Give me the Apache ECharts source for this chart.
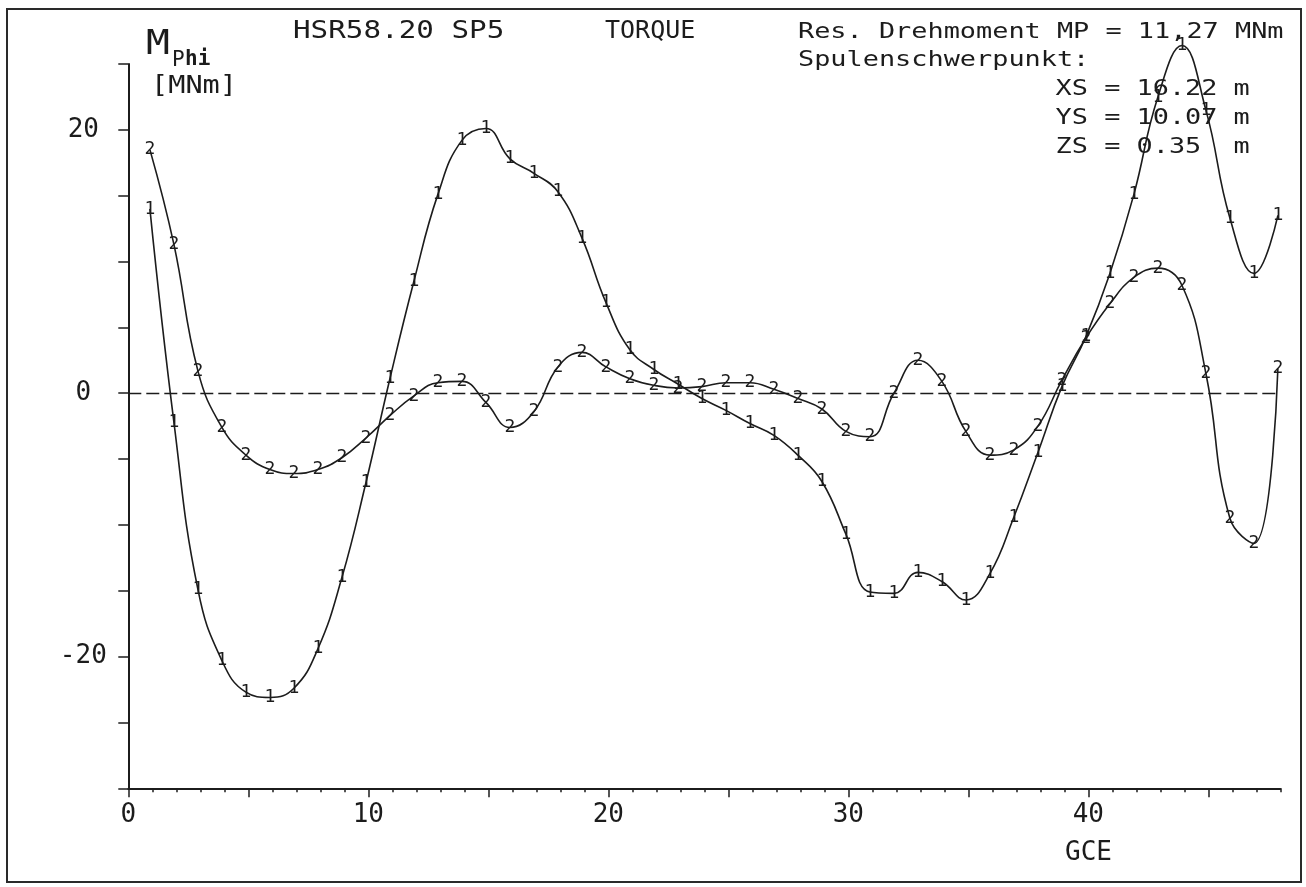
<!DOCTYPE html>
<html><head><meta charset="utf-8">
<script src="https://cdn.jsdelivr.net/npm/echarts@6/dist/echarts.min.js"></script>
<style>html,body{margin:0;padding:0;background:#fff}#c{width:1306px;height:887px}</style>
</head><body><div id="c"></div>
<script>
// GCE positions of the plotted points
const gce = [0.9,1.9,2.9,3.9,4.9,5.9,6.9,7.9,8.9,9.9,10.9,11.9,12.9,13.9,14.9,15.9,16.9,17.9,18.9,19.9,
  20.9,21.9,22.9,23.9,24.9,25.9,26.9,27.9,28.9,29.9,30.9,31.9,32.9,33.9,34.9,35.9,36.9,37.9,38.9,39.9,
  40.9,41.9,42.9,43.9,44.9,45.9,46.9,47.9];
// Curve "1" (MNm)
const curve1 = [14.0,-2.2,-14.9,-20.3,-22.7,-23.1,-22.4,-19.4,-14.0,-6.8,1.1,8.5,15.1,19.2,20.1,17.8,16.7,15.3,11.8,6.9,
  3.3,1.8,0.7,-0.4,-1.3,-2.3,-3.2,-4.7,-6.7,-10.7,-15.1,-15.2,-13.6,-14.3,-15.7,-13.7,-9.4,-4.5,0.5,4.3,
  9.1,15.1,22.5,26.4,21.5,13.3,9.1,13.5];
// Curve "2" (MNm)
const curve2 = [18.5,11.3,1.7,-2.6,-4.7,-5.8,-6.1,-5.8,-4.9,-3.4,-1.7,-0.2,0.8,0.9,-0.7,-2.6,-1.4,2.0,3.1,2.0,
  1.1,0.6,0.4,0.5,0.8,0.8,0.3,-0.4,-1.2,-2.9,-3.3,0.0,2.5,0.9,-2.9,-4.7,-4.3,-2.5,1.0,4.2,
  6.8,8.8,9.5,8.2,1.5,-9.5,-11.4,1.9];
const xTickLabels = [0,10,20,30,40];
const xMajorTicks = [0,5,10,15,20,25,30,35,40,45];
const yTickLabels = [-20,0,20];

const MONO = '"DejaVu Sans Mono", "Liberation Mono", monospace';
const INK = '#1c1c1c';

function txt(x, y, text, size, sx, weight) {
  return {
    type: 'text', x: x, y: y, scaleX: sx || 1, z: 100,
    style: {
      text: text, fill: INK,
      font: (weight || 'normal') + ' ' + size + 'px ' + MONO,
      align: 'left', verticalAlign: 'middle',
      textAlign: 'left', textVerticalAlign: 'middle'
    }
  };
}

function makeSeries(name, vals, mark) {
  return {
    name: name, type: 'line', xAxisIndex: 0, yAxisIndex: 0,
    data: gce.map((x, i) => [x, vals[i]]),
    smooth: 0.45,
    clip: false,
    symbol: 'circle', symbolSize: 1, showSymbol: true,
    itemStyle: { color: 'rgba(0,0,0,0)' },
    lineStyle: { color: INK, width: 1.6 },
    label: {
      show: true, position: 'inside', formatter: mark,
      color: INK, fontFamily: MONO, fontSize: 18
    },
    emphasis: { disabled: true },
    z: 5
  };
}

const chart = echarts.init(document.getElementById('c'), null, { renderer: 'canvas' });
const s1 = makeSeries('1', curve1, '1');
s1.markLine = {
  silent: true, symbol: 'none', label: { show: false },
  lineStyle: { color: INK, type: [13, 5], width: 1.3 },
  data: [{ yAxis: 0 }]
};

chart.setOption({
  animation: false,
  backgroundColor: '#fff',
  grid: { left: 128.3, right: 25.7, top: 64, bottom: 98.7, containLabel: false, outerBoundsMode: 'none' },
  xAxis: [
    {
      type: 'value', min: 0, max: 48, interval: 1, position: 'bottom',
      axisLine: { show: true, onZero: false, lineStyle: { color: INK, width: 2 } },
      axisTick: { show: true, inside: false, length: 4, lineStyle: { color: INK, width: 1.5 } },
      axisLabel: { show: false },
      splitLine: { show: false }
    },
    {
      type: 'value', min: 0, max: 48, interval: 5, position: 'bottom',
      axisLine: { show: false, onZero: false },
      axisTick: { show: true, inside: false, length: 9, customValues: xMajorTicks, lineStyle: { color: INK, width: 1.5 } },
      axisLabel: {
        show: true, customValues: xTickLabels, margin: 14,
        color: INK, fontFamily: MONO, fontSize: 26,
        formatter: v => (xTickLabels.indexOf(v) >= 0 ? String(v) : '')
      },
      splitLine: { show: false }
    }
  ],
  yAxis: {
    type: 'value', min: -30, max: 25, interval: 5,
    axisLine: { show: true, onZero: false, lineStyle: { color: INK, width: 2 } },
    axisTick: { show: true, inside: false, length: 10, lineStyle: { color: INK, width: 1.5 } },
    axisLabel: {
      show: true, margin: 45, align: 'center',
      color: INK, fontFamily: MONO, fontSize: 26,
      formatter: v => (yTickLabels.indexOf(v) >= 0 ? String(v) : '')
    },
    splitLine: { show: false }
  },
  series: [s1, makeSeries('2', curve2, '2')],
  graphic: [
    { type: 'rect', shape: { x: 7, y: 9, width: 1294, height: 873 }, style: { fill: 'none', stroke: '#2a2a2a', lineWidth: 2 }, z: 100 },
    txt(293, 31, 'HSR58.20 SP5', 25, 1.17),
    txt(605, 31, 'TORQUE', 25, 1.0),
    txt(798, 32.5, 'Res. Drehmoment MP = 11,27 MNm', 21, 1.28),
    txt(798, 61, 'Spulenschwerpunkt:', 21, 1.28),
    txt(1055.6, 89.5, 'XS = 16.22 m', 21, 1.28),
    txt(1055.6, 118.5, 'YS = 10.07 m', 21, 1.28),
    txt(1055.6, 147.5, 'ZS = 0.35  m', 21, 1.28),
    txt(146, 45, 'M', 33, 1.2),
    txt(172, 61, 'P', 21, 1.0),
    txt(185, 60, 'hi', 21, 1.0, 'bold'),
    txt(151, 87, '[MNm]', 24, 1.19),
    txt(1065, 853, 'GCE', 26, 1.0)
  ]
});
</script>
</body></html>
